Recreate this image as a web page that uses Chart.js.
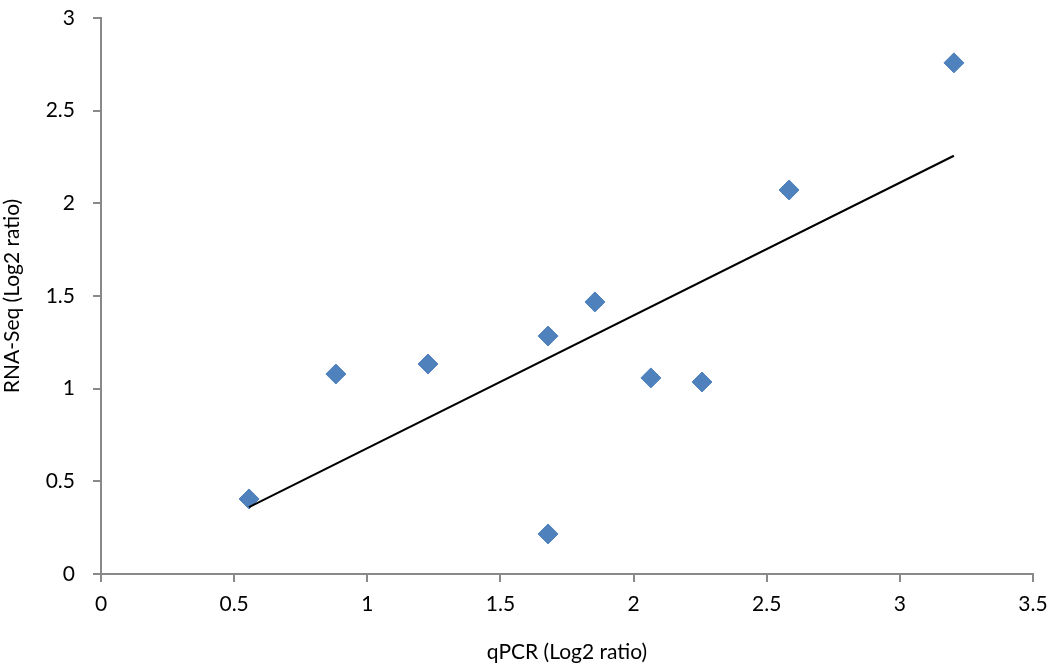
<!DOCTYPE html>
<html>
<head>
<meta charset="utf-8">
<script src="https://cdn.jsdelivr.net/npm/chart.js@4/dist/chart.umd.min.js"></script>
<style>
html,body{margin:0;padding:0;background:#fff;}
#wrap{width:1052px;height:665px;position:relative;}
</style>
</head>
<body>
<div id="wrap"><canvas id="c" width="1052" height="665"></canvas></div>
<script>
const qpcr   = [0.556, 0.882, 1.228, 1.679, 1.679, 1.855, 2.065, 2.257, 2.584, 3.203];
const rnaseq = [0.405, 1.079, 1.133, 1.284, 0.216, 1.468, 1.058, 1.036, 2.072, 2.758];
const xTitle = 'qPCR (Log2 ratio)';
const yTitle = 'RNA-Seq (Log2 ratio)';

const points = qpcr.map((x, i) => ({x: x, y: rnaseq[i]}));
// linear trendline (least squares) from the data
const n = qpcr.length;
const mx = qpcr.reduce((a, b) => a + b, 0) / n;
const my = rnaseq.reduce((a, b) => a + b, 0) / n;
let sxy = 0, sxx = 0;
for (let i = 0; i < n; i++) { sxy += (qpcr[i] - mx) * (rnaseq[i] - my); sxx += (qpcr[i] - mx) ** 2; }
const slope = sxy / sxx, icpt = my - slope * mx;
const xmin = Math.min(...qpcr), xmax = Math.max(...qpcr);
const trend = [{x: xmin, y: icpt + slope * xmin}, {x: xmax, y: icpt + slope * xmax}];

const FONT = 'Lato, "Open Sans", sans-serif';
const axisColor = '#898989';
const fmt = v => String(Math.round(v * 10) / 10);

const chart = new Chart(document.getElementById('c'), {
  type: 'scatter',
  data: {
    datasets: [
      {
        type: 'line', data: trend, borderColor: '#000', borderWidth: 2,
        pointRadius: 0, fill: false, order: 0
      },
      {
        data: points, pointStyle: 'rectRot', pointRadius: 10, pointHoverRadius: 10,
        backgroundColor: '#4F81BD', borderColor: '#4F81BD', borderWidth: 1, order: 1
      }
    ]
  },
  options: {
    responsive: false,
    animation: false,
    devicePixelRatio: 1,
    layout: {padding: {left: 0, right: 19, top: 18, bottom: 0}},
    plugins: {legend: {display: false}, tooltip: {enabled: false}},
    scales: {
      x: {
        type: 'linear', min: 0, max: 3.5,
        ticks: {stepSize: 0.5, color: '#000', font: {family: FONT, size: 21}, padding: 10, maxRotation: 0, callback: fmt},
        grid: {drawOnChartArea: false, drawTicks: true, tickLength: 8, color: axisColor, lineWidth: 2},
        border: {color: axisColor, width: 2},
        title: {display: true, text: xTitle, color: '#000', font: {family: FONT, size: 21}, padding: {top: 8, bottom: 0}},
        afterFit: s => { s.height = 91; s.paddingLeft = 0; s.paddingRight = 0; }
      },
      y: {
        type: 'linear', min: 0, max: 3,
        ticks: {stepSize: 0.5, color: '#000', font: {family: FONT, size: 21}, padding: 18, callback: fmt},
        grid: {drawOnChartArea: false, drawTicks: true, tickLength: 8, color: axisColor, lineWidth: 2},
        border: {color: axisColor, width: 2},
        title: {display: true, text: yTitle, color: '#000', font: {family: FONT, size: 21}, padding: {top: 0, bottom: 0}},
        afterFit: s => { s.width = 101; s.paddingTop = 0; s.paddingBottom = 0; }
      }
    }
  }
});
</script>
</body>
</html>
